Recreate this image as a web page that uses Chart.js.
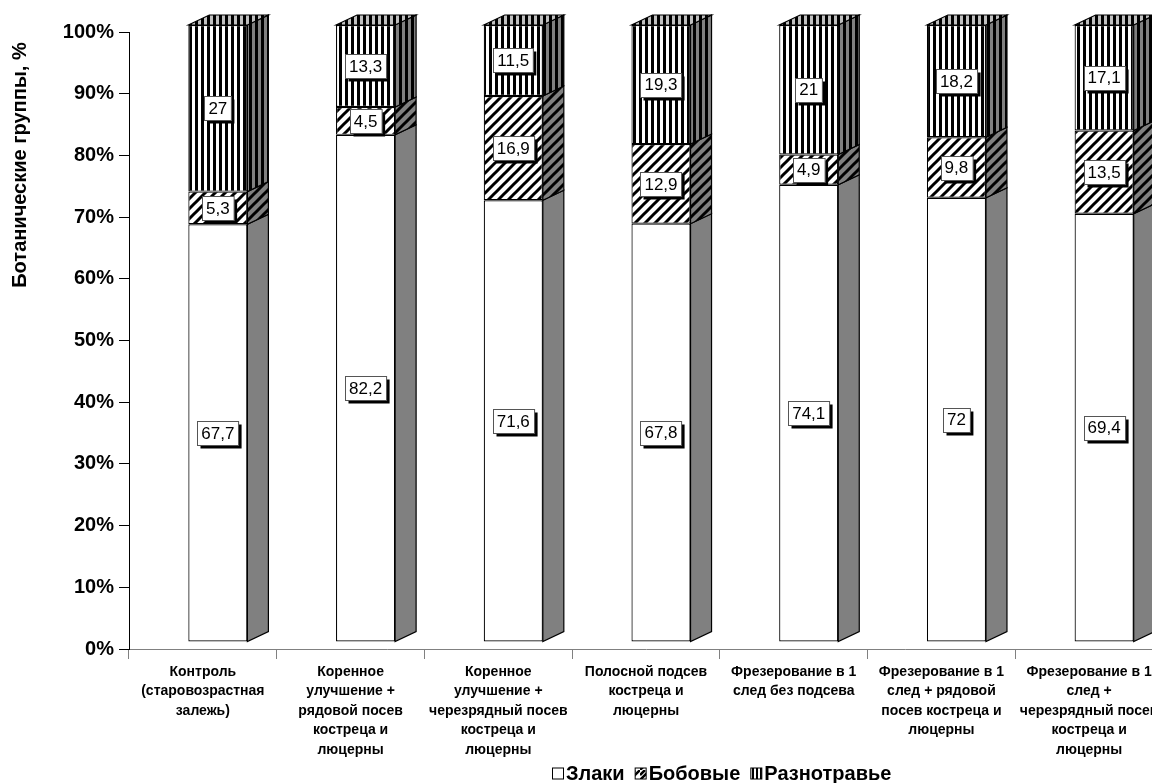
<!DOCTYPE html>
<html>
<head>
<meta charset="utf-8">
<script src="https://cdn.jsdelivr.net/npm/chart.js@4"></script>
<style>
  html, body { margin: 0; padding: 0; background: #fff; overflow: hidden; width: 1152px; height: 783px; }
  canvas { display: block; }
</style>
</head>
<body>
<canvas id="chart" width="1164" height="783"></canvas>
<script>
const categories = [
  ["Контроль", "(старовозрастная", "залежь)"],
  ["Коренное", "улучшение +", "рядовой посев", "костреца и", "люцерны"],
  ["Коренное", "улучшение +", "черезрядный посев", "костреца и", "люцерны"],
  ["Полосной подсев", "костреца и", "люцерны"],
  ["Фрезерование в 1", "след без подсева"],
  ["Фрезерование в 1", "след + рядовой", "посев костреца и", "люцерны"],
  ["Фрезерование в 1", "след +", "черезрядный посев", "костреца и", "люцерны"]
]
const zlaki = [67.7, 82.2, 71.6, 67.8, 74.1, 72, 69.4]
const bobovye = [5.3, 4.5, 16.9, 12.9, 4.9, 9.8, 13.5]
const raznotravye = [27, 13.3, 11.5, 19.3, 21, 18.2, 17.1]
const yTicks = [0, 10, 20, 30, 40, 50, 60, 70, 80, 90, 100]

const FONT = "'Liberation Sans', Arial, sans-serif"
Chart.defaults.font.family = FONT
Chart.defaults.color = "#000"

// 3D look: front faces shifted, side/top faces pushed back by DEPTH
const SHIFT = { x: 15, y: -7 }
const DEPTH = { x: 21, y: -10 }

function tile(size, bg, draw) {
  const c = document.createElement("canvas")
  c.width = c.height = size
  const x = c.getContext("2d")
  x.fillStyle = bg
  x.fillRect(0, 0, size, size)
  draw(x, size)
  return x.createPattern(c, "repeat")
}

const hatch = (bg) => tile(10, bg, (x, s) => {
  x.strokeStyle = "#000"
  x.lineWidth = 3
  x.beginPath()
  x.moveTo(-2, s + 2); x.lineTo(s + 2, -2)
  x.moveTo(-2, 2); x.lineTo(2, -2)
  x.moveTo(s - 2, s + 2); x.lineTo(s + 2, s - 2)
  x.stroke()
})

const vstripes = (bg) => tile(6, bg, (x, s) => {
  x.fillStyle = "#000"
  x.fillRect(0, 0, 3, s)
})

const frontFill = ["#ffffff", hatch("#ffffff"), vstripes("#ffffff")]
const sideFill = ["#808080", hatch("#808080"), vstripes("#808080")]
const topFill = vstripes("#c0c0c0")
const legendFill = [
  "#ffffff",
  tile(10, "#fff", (x) => { x.lineWidth = 2.5; x.beginPath(); x.moveTo(0, 10); x.lineTo(10, 0); x.moveTo(0, 5); x.lineTo(5, 0); x.stroke() }),
  tile(4, "#fff", (x) => { x.fillStyle = "#000"; x.fillRect(0, 0, 2, 4) })
]

const fmt = (v) => String(v).replace(".", ",")

const bar3d = {
  id: "bar3d",
  beforeDatasetsDraw(chart) {
    chart.ctx.save()
    chart.ctx.translate(SHIFT.x, SHIFT.y)
  },
  afterDatasetsDraw(chart) {
    const ctx = chart.ctx
    const n = chart.data.datasets.length
    ctx.lineWidth = 1.2
    ctx.strokeStyle = "#000"
    for (let i = 0; i < n; i++) {
      chart.getDatasetMeta(i).data.forEach((bar) => {
        const { x, y, base, width } = bar.getProps(["x", "y", "base", "width"], true)
        const l = x - width / 2, r = x + width / 2
        ctx.beginPath()
        ctx.moveTo(r, y)
        ctx.lineTo(r + DEPTH.x, y + DEPTH.y)
        ctx.lineTo(r + DEPTH.x, base + DEPTH.y)
        ctx.lineTo(r, base)
        ctx.closePath()
        ctx.fillStyle = sideFill[i]
        ctx.fill()
        ctx.stroke()
        if (i === n - 1) {
          ctx.beginPath()
          ctx.moveTo(l, y)
          ctx.lineTo(l + DEPTH.x, y + DEPTH.y)
          ctx.lineTo(r + DEPTH.x, y + DEPTH.y)
          ctx.lineTo(r, y)
          ctx.closePath()
          ctx.fillStyle = topFill
          ctx.fill()
          ctx.stroke()
        }
      })
    }
    // value labels: white box with a black drop shadow
    ctx.font = "17px " + FONT
    ctx.textAlign = "center"
    ctx.textBaseline = "middle"
    for (let i = 0; i < n; i++) {
      const values = chart.data.datasets[i].data
      chart.getDatasetMeta(i).data.forEach((bar, j) => {
        const { x, y, base } = bar.getProps(["x", "y", "base"], true)
        const text = fmt(values[j])
        const w = ctx.measureText(text).width + 8
        const h = 24
        const cy = (y + base) / 2
        const bx = Math.round(x - w / 2) + 0.5, by = Math.round(cy - h / 2) + 0.5
        ctx.fillStyle = "#000"
        ctx.fillRect(bx + 3, by + 3, w, h)
        ctx.fillStyle = "#fff"
        ctx.fillRect(bx, by, w, h)
        ctx.lineWidth = 1
        ctx.strokeStyle = "#555"
        ctx.strokeRect(bx, by, w, h)
        ctx.fillStyle = "#000"
        ctx.fillText(text, x, cy + 1)
      })
    }
    ctx.restore()
  },
  afterDraw(chart) {
    const ctx = chart.ctx
    ctx.save()
    // y axis title
    ctx.translate(20, 165)
    ctx.rotate(-Math.PI / 2)
    ctx.font = "bold 20px " + FONT
    ctx.fillStyle = "#000"
    ctx.textAlign = "center"
    ctx.textBaseline = "middle"
    ctx.fillText("Ботанические группы, %", 0, 0)
    ctx.restore()

    // legend: small box right before each name
    ctx.save()
    ctx.font = "bold 20px " + FONT
    ctx.textBaseline = "middle"
    ctx.textAlign = "left"
    const box = 11, gapBox = 3, gapItem = 10
    const names = chart.data.datasets.map((d) => d.label)
    let x = 552
    const cy = 773
    names.forEach((t, i) => {
      ctx.fillStyle = legendFill[i]
      ctx.fillRect(x + 0.5, cy - box / 2 + 0.5, box, box)
      ctx.lineWidth = 1
      ctx.strokeStyle = "#000"
      ctx.strokeRect(x + 0.5, cy - box / 2 + 0.5, box, box)
      ctx.fillStyle = "#000"
      ctx.fillText(t, x + box + gapBox, cy + 1)
      x += box + gapBox + ctx.measureText(t).width + gapItem
    })
    ctx.restore()
  }
}

const makeSet = (label, data, i) => ({
  label,
  data,
  backgroundColor: frontFill[i],
  borderColor: "#000",
  borderWidth: 1.2,
  borderSkipped: false,
  barPercentage: 0.4,
  categoryPercentage: 1,
  clip: false
})

new Chart(document.getElementById("chart"), {
  type: "bar",
  data: {
    labels: categories,
    datasets: [
      makeSet("Злаки", zlaki, 0),
      makeSet("Бобовые", bobovye, 1),
      makeSet("Разнотравье", raznotravye, 2)
    ]
  },
  plugins: [bar3d],
  options: {
    responsive: false,
    animation: false,
    layout: { padding: { top: 32, right: 1, bottom: 23, left: 0 } },
    plugins: {
      tooltip: { enabled: false },
      legend: { display: false }
    },
    scales: {
      x: {
        stacked: true,
        afterFit: (s) => { s.height = 111 },
        border: { color: "#808080", width: 1 },
        grid: { offset: true, drawOnChartArea: false, tickLength: 10, color: "#808080" },
        ticks: {
          color: "#000",
          maxRotation: 0,
          autoSkip: false,
          padding: 3,
          font: { size: 14, weight: "bold", lineHeight: 1.4 }
        }
      },
      y: {
        stacked: true,
        min: 0,
        max: 100,
        afterFit: (s) => { s.width = 129 },
        afterBuildTicks: (s) => { s.ticks = yTicks.map((v) => ({ value: v })) },
        border: { color: "#000", width: 1 },
        grid: { drawOnChartArea: false, tickLength: 10, color: "#000" },
        ticks: {
          color: "#000",
          padding: 5,
          font: { size: 20, weight: "bold" },
          callback: (v) => v + "%"
        }
      }
    }
  }
})
</script>
</body>
</html>
